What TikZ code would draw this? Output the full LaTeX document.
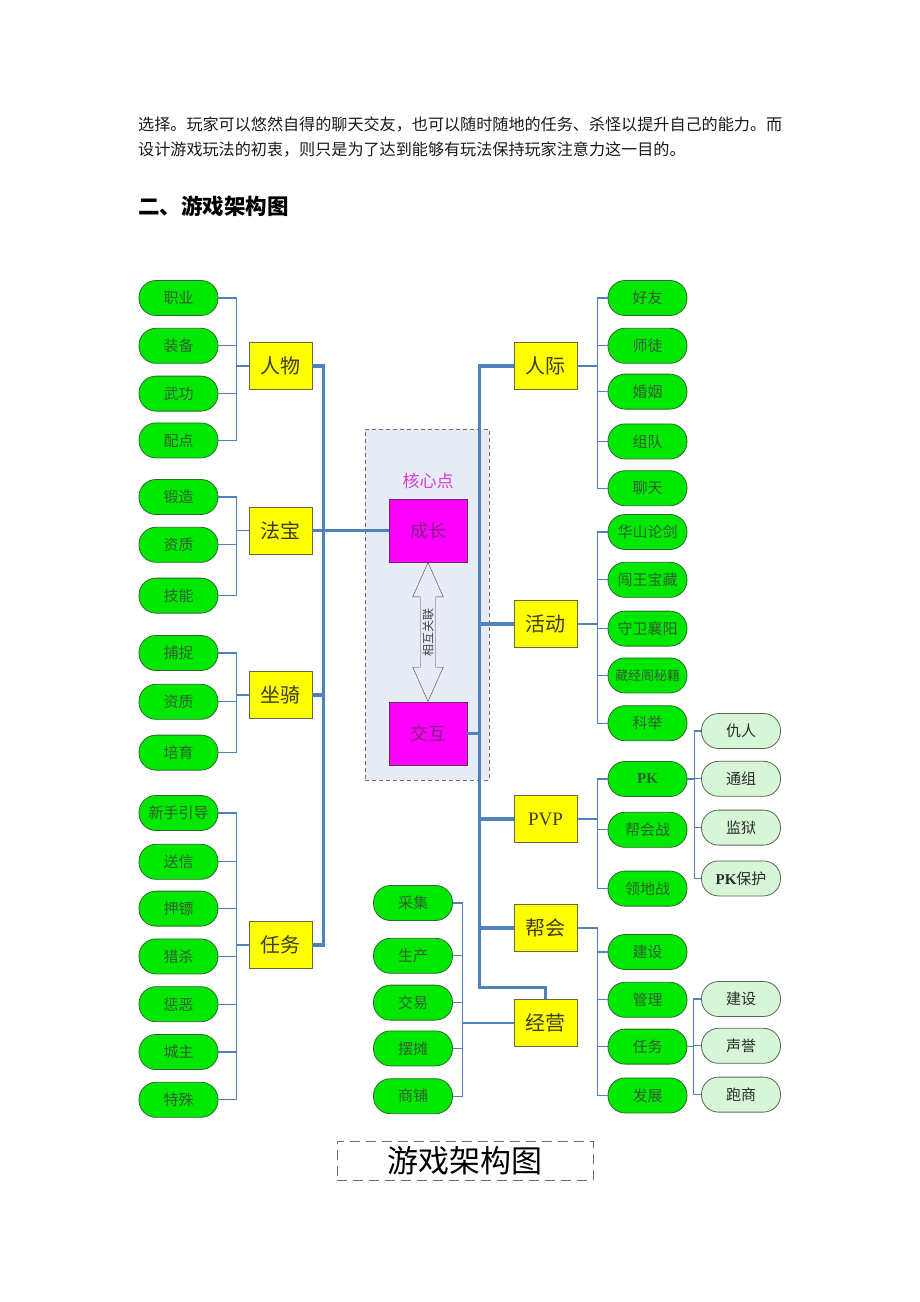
\documentclass[tikz,border=0pt]{standalone}
\usepackage{fontspec}
\setmainfont{Liberation Serif}
\newfontfamily\cjk{Noto Sans CJK SC}
\usetikzlibrary{positioning, shapes.arrows, calc}
\newcommand{\fsz}[1]{\fontsize{#1}{#1}\selectfont}
\definecolor{linkblue}{RGB}{79,129,189}
\definecolor{leafgreen}{RGB}{0,232,0}
\definecolor{leafedge}{RGB}{45,105,45}
\definecolor{leaftext}{RGB}{50,95,50}
\definecolor{subgreen}{RGB}{215,245,215}
\definecolor{subedge}{RGB}{85,105,85}
\definecolor{subtext}{RGB}{40,45,40}
\definecolor{headyellow}{RGB}{255,255,0}
\definecolor{headedge}{RGB}{105,105,60}
\definecolor{headtext}{RGB}{60,60,30}
\definecolor{coremagenta}{RGB}{255,0,255}
\definecolor{coreedge}{RGB}{110,40,110}
\definecolor{coretext}{RGB}{135,30,135}
\definecolor{corelabel}{RGB}{215,60,215}
\definecolor{framefill}{RGB}{230,235,245}
\definecolor{framegray}{RGB}{110,110,115}
\definecolor{arrowgray}{RGB}{70,70,75}
\definecolor{bodytext}{RGB}{25,25,25}

\begin{document}
\begin{tikzpicture}[x=1pt, y=-1pt,
    leaf/.style={draw=leafedge, fill=leafgreen, thick, rounded corners=17pt, minimum width=79pt, minimum height=35pt, inner sep=0pt, text=leaftext, font=\cjk\fsz{15}},
    subleaf/.style={leaf, draw=subedge, fill=subgreen, text=subtext},
    head/.style={draw=headedge, fill=headyellow, thick, minimum width=63pt, minimum height=47pt, inner sep=0pt, text=headtext, font=\cjk\fsz{20}},
    corebox/.style={draw=coreedge, fill=coremagenta, thick, minimum width=78pt, minimum height=63pt, inner sep=0pt, text=coretext, font=\cjk\fsz{18}},
    trunk/.style={draw=linkblue, line width=3.2pt},
    branch/.style={draw=linkblue, line width=1.3pt}]
    \useasboundingbox (0,0) rectangle (920,1302);
    % Text above the diagram
    \node[anchor=west, inner sep=0pt, text=bodytext, font=\cjk\fsz{16.1}] (para1) at (138,125) {选择。玩家可以悠然自得的聊天交友，也可以随时随地的任务、杀怪以提升自己的能力。而};
    \node[anchor=west, inner sep=0pt, text=bodytext, font=\cjk\fsz{16.1}] (para2) at (138,150) {设计游戏玩法的初衷，则只是为了达到能够有玩法保持玩家注意力这一目的。};
    \node[anchor=west, inner sep=0pt, font=\cjk\bfseries\fsz{21.5}] (heading) at (138,206) {二、游戏架构图};
    % Core frame
    \node[draw=framegray, dashed, dash pattern=on 4pt off 3pt, fill=framefill, minimum width=124pt, minimum height=351pt, inner sep=0pt] (coreframe) at (427,604.5) {};
    \node[text=corelabel, font=\cjk\fsz{17}] (corelabel) at (428,481) {核心点};
    \node[corebox] (grow) at (428,530.5) {成长};
    \node[corebox] (inter) at (428,733.5) {交互};
    \node[double arrow, draw=arrowgray, rotate=90, minimum height=139pt, double arrow head extend=7.5pt, double arrow tip angle=48, inner sep=2pt, text=arrowgray, font=\cjk\fsz{12}] (link) at ($(grow.south)!0.5!(inter.north)$) {相互关联};
    % Left heads
    \node[head] (character) at (280.5,366) {人物};
    \node[head] (treasure) at (280.5,530.5) {法宝};
    \node[head] (mount) at (280.5,695) {坐骑};
    \node[head] (quest) at (280.5,945) {任务};
    % Left leaves
    \node[leaf] (job) at (178.5,298) {职业};
    \node[leaf, below=12pt of job] (gear) {装备};
    \node[leaf, below=12pt of gear] (kungfu) {武功};
    \node[leaf, below=11pt of kungfu] (points) {配点};
    \node[leaf] (forge) at (178.5,497) {锻造};
    \node[leaf, below=12pt of forge] (aptitude) {资质};
    \node[leaf, below=15pt of aptitude] (skill) {技能};
    \node[leaf] (capture) at (178.5,653) {捕捉};
    \node[leaf, below=13pt of capture] (mountapt) {资质};
    \node[leaf, below=15pt of mountapt] (breed) {培育};
    \node[leaf] (guide) at (178.5,813) {新手引导};
    \node[leaf, below=13pt of guide] (letter) {送信};
    \node[leaf, below=11pt of letter] (escort) {押镖};
    \node[leaf, below=12pt of escort] (hunt) {猎杀};
    \node[leaf, below=12pt of hunt] (punish) {惩恶};
    \node[leaf, below=12pt of punish] (lord) {城主};
    \node[leaf, below=12pt of lord] (special) {特殊};
    % Right heads
    \node[head] (social) at (545.5,366) {人际};
    \node[head] (event) at (545.5,624) {活动};
    \node[head, font=\rmfamily\fsz{19}] (pvp) at (545.5,819) {PVP};
    \node[head] (guild) at (545.5,928) {帮会};
    \node[head] (business) at (545.5,1023) {经营};
    % Right leaves
    \node[leaf] (friend) at (647.5,298) {好友};
    \node[leaf, below=12pt of friend] (mentor) {师徒};
    \node[leaf, below=10pt of mentor] (marriage) {婚姻};
    \node[leaf, below=14pt of marriage] (team) {组队};
    \node[leaf, below=11pt of team] (chat) {聊天};
    \node[leaf] (huashan) at (647.5,532) {华山论剑};
    \node[leaf, below=12pt of huashan] (treasury) {闯王宝藏};
    \node[leaf, below=13pt of treasury] (xiangyang) {守卫襄阳};
    \node[leaf, below=11pt of xiangyang, font=\cjk\fsz{13}] (library) {藏经阁秘籍};
    \node[leaf, below=12pt of library] (exam) {科举};
    \node[leaf, font=\rmfamily\bfseries\fsz{15}] (pk) at (647.5,779) {PK};
    \node[leaf, below=15pt of pk] (guildwar) {帮会战};
    \node[leaf, below=23pt of guildwar] (territory) {领地战};
    \node[leaf] (gbuild) at (647.5,952) {建设};
    \node[leaf, below=12pt of gbuild] (manage) {管理};
    \node[leaf, below=11pt of manage] (gquest) {任务};
    \node[leaf, below=13pt of gquest] (develop) {发展};
    % Sub leaves
    \node[subleaf] (enemy) at (741,731) {仇人};
    \node[subleaf, below=12pt of enemy] (wanted) {通组};
    \node[subleaf, below=13pt of wanted] (prison) {监狱};
    \node[subleaf, below=15pt of prison] (pkguard) {{\rmfamily\bfseries PK}保护};
    \node[subleaf] (qbuild) at (741,999) {建设};
    \node[subleaf, below=11pt of qbuild] (fame) {声誉};
    \node[subleaf, below=13pt of fame] (trade) {跑商};
    % Business leaves
    \node[leaf] (gather) at (413,903) {采集};
    \node[leaf, below=17pt of gather] (produce) {生产};
    \node[leaf, below=11pt of produce] (exchange) {交易};
    \node[leaf, below=10pt of exchange] (stall) {摆摊};
    \node[leaf, below=12pt of stall] (shop) {商铺};
    % Title
    \node[draw=framegray, dashed, dash pattern=on 10pt off 6pt, minimum width=256pt, minimum height=39pt, inner sep=0pt, font=\cjk\fsz{31}] (title) at (465,1160.5) {游戏架构图};
    % Trunk lines
    \draw[trunk] (character.east) -- ++(11,0) |- (quest.east);
    \draw[trunk] (treasure.east) -- (grow.west);
    \draw[trunk] (mount.east) -- ++(11,0);
    \draw[trunk] (social.west) -- ++(-34,0) |- ([yshift=12pt]business.north) -- (business.north);
    \draw[trunk] (event.west) -- ++(-34,0);
    \draw[trunk] (pvp.west) -- ++(-34,0);
    \draw[trunk] (guild.west) -- ++(-34,0);
    \draw[trunk] (inter.east) -- ++(13,0);
    % Branches on the left
    \draw[branch] (character.west) -- ++(-12,0) |- (job.east);
    \draw[branch] (character.west) -- ++(-12,0) |- (gear.east);
    \draw[branch] (character.west) -- ++(-12,0) |- (kungfu.east);
    \draw[branch] (character.west) -- ++(-12,0) |- (points.east);
    \draw[branch] (treasure.west) -- ++(-12,0) |- (forge.east);
    \draw[branch] (treasure.west) -- ++(-12,0) |- (aptitude.east);
    \draw[branch] (treasure.west) -- ++(-12,0) |- (skill.east);
    \draw[branch] (mount.west) -- ++(-12,0) |- (capture.east);
    \draw[branch] (mount.west) -- ++(-12,0) |- (mountapt.east);
    \draw[branch] (mount.west) -- ++(-12,0) |- (breed.east);
    \draw[branch] (quest.west) -- ++(-12,0) |- (guide.east);
    \draw[branch] (quest.west) -- ++(-12,0) |- (letter.east);
    \draw[branch] (quest.west) -- ++(-12,0) |- (escort.east);
    \draw[branch] (quest.west) -- ++(-12,0) |- (hunt.east);
    \draw[branch] (quest.west) -- ++(-12,0) |- (punish.east);
    \draw[branch] (quest.west) -- ++(-12,0) |- (lord.east);
    \draw[branch] (quest.west) -- ++(-12,0) |- (special.east);
    % Branches on the right
    \draw[branch] (social.east) -- ++(20,0) |- (friend.west);
    \draw[branch] (social.east) -- ++(20,0) |- (mentor.west);
    \draw[branch] (social.east) -- ++(20,0) |- (marriage.west);
    \draw[branch] (social.east) -- ++(20,0) |- (team.west);
    \draw[branch] (social.east) -- ++(20,0) |- (chat.west);
    \draw[branch] (event.east) -- ++(20,0) |- (huashan.west);
    \draw[branch] (event.east) -- ++(20,0) |- (treasury.west);
    \draw[branch] (event.east) -- ++(20,0) |- (xiangyang.west);
    \draw[branch] (event.east) -- ++(20,0) |- (library.west);
    \draw[branch] (event.east) -- ++(20,0) |- (exam.west);
    \draw[branch] (pvp.east) -- ++(20,0) |- (pk.west);
    \draw[branch] (pvp.east) -- ++(20,0) |- (guildwar.west);
    \draw[branch] (pvp.east) -- ++(20,0) |- (territory.west);
    \draw[branch] (pk.east) -- ++(7,0) |- (enemy.west);
    \draw[branch] (pk.east) -- ++(7,0) |- (wanted.west);
    \draw[branch] (pk.east) -- ++(7,0) |- (prison.west);
    \draw[branch] (pk.east) -- ++(7,0) |- (pkguard.west);
    \draw[branch] (guild.east) -- ++(20,0) |- (gbuild.west);
    \draw[branch] (guild.east) -- ++(20,0) |- (manage.west);
    \draw[branch] (guild.east) -- ++(20,0) |- (gquest.west);
    \draw[branch] (guild.east) -- ++(20,0) |- (develop.west);
    \draw[branch] (gquest.east) -- ++(6,0) |- (qbuild.west);
    \draw[branch] (gquest.east) -- ++(6,0) |- (fame.west);
    \draw[branch] (gquest.east) -- ++(6,0) |- (trade.west);
    \draw[branch] (business.west) -- ++(-51,0) |- (gather.east);
    \draw[branch] (business.west) -- ++(-51,0) |- (produce.east);
    \draw[branch] (business.west) -- ++(-51,0) |- (exchange.east);
    \draw[branch] (business.west) -- ++(-51,0) |- (stall.east);
    \draw[branch] (business.west) -- ++(-51,0) |- (shop.east);
\end{tikzpicture}
\end{document}
